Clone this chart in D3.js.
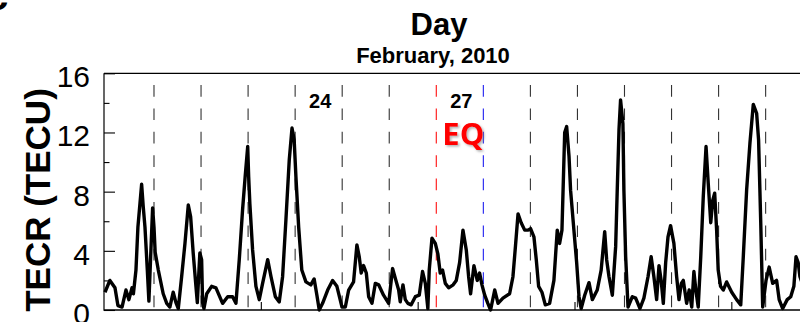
<!DOCTYPE html>
<html>
<head>
<meta charset="utf-8">
<script src="https://cdn.jsdelivr.net/npm/d3@7"></script>
<style>
  html, body { margin: 0; padding: 0; background: #fff; overflow: hidden; }
  text { font-family: "Liberation Sans", Arial, sans-serif; }
</style>
</head>
<body>
<svg id="chart" width="800" height="322"></svg>
<script>
// TEC residual series, hours counted from 20 Feb 2010 00 UT
const hours = [
  -1.0, 1.5, 4.1, 5.6, 7.7, 9.7, 11.2, 12.8, 13.5, 14.8,
  15.8, 17.7, 18.5, 19.4, 20.6, 21.4, 22.3, 23.3, 24.0, 24.6,
  26.2, 28.7, 30.5, 32.1, 33.8, 35.2, 36.4, 38.1, 39.8, 41.5,
  42.7, 44.0, 45.4, 46.1, 47.4, 48.3, 48.8, 49.5, 50.9, 53.4,
  55.6,
  59.0, 61.6, 64.1, 65.8, 67.5, 69.2, 70.5, 71.8, 72.3, 72.9,
  74.3, 76.0, 77.7, 79.4, 82.0, 83.7, 85.9, 87.9, 89.6, 91.3,
  93.0, 94.4, 95.5, 96.4, 97.8, 99.4, 101.5, 104.0, 105.7, 107.1,
  108.3, 110.0, 112.6, 115.1,
  117.3, 119.9, 121.6, 123.3, 125.8, 127.5, 128.7, 129.7, 130.9, 132.3,
  133.5, 135.2, 136.9, 138.6, 141.1, 143.7, 145.7, 147.4, 148.8, 149.6,
  151.0, 152.2, 153.5, 155.2, 157.3, 159.3, 161.0, 162.4, 163.7, 164.4,
  165.8, 167.5, 168.8, 170.0, 171.2, 172.6, 174.3, 176.6,
  178.2, 179.9, 181.6, 183.3, 184.5, 185.5, 187.2, 188.9, 190.1, 191.3,
  192.7, 194.3, 195.7, 197.8, 199.5, 202.0, 205.4, 207.1, 208.5, 209.7,
  211.3, 213.1, 214.8, 216.1, 217.8, 219.0, 220.2, 221.9, 223.6, 225.8,
  228.0, 229.7, 230.9, 232.1, 233.5, 234.5,
  235.7, 236.5, 238.2, 239.6, 240.8, 241.9, 243.7, 245.9, 247.6, 250.1,
  252.1, 253.9, 254.9, 256.1, 257.8, 259.5, 260.3, 261.2, 262.0, 263.2,
  263.7, 264.6, 265.8, 268.0, 269.7, 271.9, 273.9, 276.0, 277.6, 279.0,
  280.4, 281.6, 282.7, 283.8, 285.0, 286.2, 287.5, 289.2, 290.6, 291.8,
  293.0,
  294.0, 295.7, 297.0, 298.3, 299.4, 300.4, 301.6, 302.9, 304.2, 305.6,
  306.7, 308.0, 309.0, 310.0, 311.0, 311.8, 313.0, 314.4, 316.1, 318.7,
  321.2, 323.3, 324.6, 326.3, 328.0, 329.7, 331.4, 332.4, 333.5, 334.5,
  336.2, 337.8, 339.6, 341.6, 342.9, 344.7, 347.0, 348.8, 350.4, 351.5,
  352.6, 353.5, 355.5
];
const tecr = [
  1.2, 2.0, 1.5, 0.3, 0.2, 1.35, 0.7, 1.5, 1.1, 2.7,
  5.6, 8.5, 7.0, 5.6, 2.7, 0.6, 3.6, 6.9, 5.6, 3.9,
  2.7, 1.1, 0.45, 0.2, 1.2, 0.5, 0.1, 2.25, 4.5, 7.1,
  6.3, 3.85, 1.6, 0.5, 3.85, 3.4, 0.5, 0.1, 1.1, 1.6,
  1.5,
  0.45, 0.9, 0.9, 0.45, 3.4, 6.8, 9.0, 11.05, 9.0, 7.2,
  4.06, 1.6, 0.7, 1.8, 3.4, 2.25, 0.9, 0.55, 2.25, 6.1,
  10.15, 12.3, 11.5, 9.0, 5.6, 2.7, 1.9, 1.7, 2.1, 1.0,
  0.0, 0.45, 1.35, 2.0,
  1.6, 0.2, 0.2, 1.35, 1.9, 4.4, 3.6, 2.5, 3.0, 2.5,
  0.9, 0.45, 1.8, 1.7, 1.0, 0.45, 2.8, 2.0, 1.35, 0.55,
  1.7, 0.7, 0.45, 0.35, 0.9, 1.0, 2.6, 1.8, 0.1, 2.7,
  4.85, 4.5, 3.8, 2.5, 2.7, 1.8, 1.5, 1.7,
  2.0, 3.2, 5.4, 4.06, 2.25, 1.1, 3.0, 2.0, 2.5, 1.7,
  1.0, 0.45, 0.0, 1.35, 0.45, 0.8, 1.1, 2.25, 4.5, 6.5,
  5.9, 5.4, 5.4, 5.5, 4.95, 3.4, 1.6, 1.2, 0.35, 0.45,
  2.0, 5.4, 4.5, 5.4, 12.0, 12.4,
  10.4, 8.1, 5.4, 3.2, 0.9, 0.1, 1.0, 1.85, 0.7, 1.35,
  2.7, 5.3, 3.4, 2.25, 1.0, 4.3, 8.1, 12.2, 14.2, 12.6,
  8.1, 3.6, 0.2, 0.9, 0.8, 0.1, 0.8, 2.25, 3.6, 2.25,
  0.7, 3.0, 2.0, 0.45, 3.2, 4.95, 5.7, 4.5, 2.25, 0.7,
  1.8,
  2.0, 0.45, 1.35, 0.2, 2.6, 1.35, 0.2, 3.6, 7.7, 11.05,
  8.6, 5.9, 7.4, 7.9, 5.4, 2.7, 1.6, 1.35, 1.9, 1.2,
  0.7, 0.35, 3.6, 8.1, 11.3, 13.9, 13.3, 11.5, 5.9, 0.2,
  2.0, 2.9, 1.8, 2.0, 0.7, 0.1, 0.7, 0.9, 1.6, 3.6,
  3.2, 2.25, 1.5
];

const yTickValues = [0, 4, 8, 12, 16];
const yMinorValues = [2, 6, 10, 14];
const firstDay = 20;            // day of February at hour 0
const lastBoundaryDay = 34;     // day-boundary lines run through 6 March
const labelledDays = [24, 27];
const eqDay = 27;               // 27 February 2010 earthquake
const axisStartHour = -1.5;
const axisEndHour = 360;
const hourTickStep = 80;

const svg = d3.select("#chart");
const plotLeft = 104, plotTop = 73.3, plotBottom = 310;
const hourPx = 47.05 / 24;

const x = d3.scaleLinear()
  .domain([axisStartHour, axisEndHour])
  .range([plotLeft, plotLeft + (axisEndHour - axisStartHour) * hourPx]);
const y = d3.scaleLinear().domain([0, 16]).range([plotBottom, plotTop]);
const plotRight = x.range()[1];

// drop shadow for the EQ marker
const defs = svg.append("defs");
const shadow = defs.append("filter").attr("id", "eqShadow")
  .attr("x", "-20%").attr("y", "-20%").attr("width", "150%").attr("height", "150%");
shadow.append("feDropShadow").attr("dx", 1.6).attr("dy", 1.6)
  .attr("stdDeviation", 0.9).attr("flood-color", "#777").attr("flood-opacity", 0.55);

// day boundaries
const boundaryDays = d3.range(firstDay + 1, lastBoundaryDay + 1);
svg.append("g").selectAll("line")
  .data(boundaryDays)
  .join("line")
  .attr("x1", d => x((d - firstDay) * 24))
  .attr("x2", d => x((d - firstDay) * 24))
  .attr("y1", 85)
  .attr("y2", plotBottom)
  .attr("stroke", d => d === eqDay ? "#ff1010" : d === eqDay + 1 ? "#2020f0" : "#333")
  .attr("stroke-width", 1.1)
  .attr("stroke-dasharray", "11.7,11.7");

// TECR curve
const pts = hours.map((h, i) => [h, tecr[i]]);
svg.append("path")
  .datum(pts)
  .attr("fill", "none")
  .attr("stroke", "#000")
  .attr("stroke-width", 3.4)
  .attr("stroke-linejoin", "round")
  .attr("d", d3.line().x(d => x(d[0])).y(d => y(d[1])));

// left axis, inward ticks
const yAxis = svg.append("g")
  .attr("transform", `translate(${plotLeft},0)`)
  .call(d3.axisLeft(y).tickValues(yTickValues).tickSize(-11).tickPadding(14).tickFormat(d3.format("d")));
yAxis.select(".domain").remove();
yAxis.selectAll(".tick line").attr("stroke", "#000").attr("stroke-width", 1.1);
yAxis.selectAll(".tick text")
  .attr("font-size", 30)
  .attr("font-family", "Liberation Sans, Arial, sans-serif")
  .attr("fill", "#000")
  .attr("dy", "0.45em");

const yMinor = svg.append("g")
  .attr("transform", `translate(${plotLeft},0)`)
  .call(d3.axisLeft(y).tickValues(yMinorValues).tickSize(-5.5).tickFormat(""));
yMinor.select(".domain").remove();
yMinor.selectAll(".tick line").attr("stroke", "#000").attr("stroke-width", 1.1);

// bottom hour ticks
const bottomTicks = d3.range(axisStartHour + hourTickStep, axisEndHour, hourTickStep);
const xAxis = svg.append("g")
  .attr("transform", `translate(0,${plotBottom})`)
  .call(d3.axisBottom(x).tickValues(bottomTicks).tickSize(-8).tickFormat(""));
xAxis.select(".domain").remove();
xAxis.selectAll(".tick line").attr("stroke", "#000").attr("stroke-width", 1.1);

// frame
svg.append("line").attr("x1", plotLeft).attr("x2", plotRight).attr("y1", plotTop).attr("y2", plotTop)
  .attr("stroke", "#000").attr("stroke-width", 1.2);
svg.append("line").attr("x1", plotLeft).attr("x2", plotRight).attr("y1", plotBottom).attr("y2", plotBottom)
  .attr("stroke", "#000").attr("stroke-width", 1.4);
svg.append("line").attr("x1", plotLeft).attr("x2", plotLeft).attr("y1", plotTop).attr("y2", plotBottom + 0.7)
  .attr("stroke", "#000").attr("stroke-width", 1.2);

// day numbers
svg.append("g").selectAll("text")
  .data(labelledDays)
  .join("text")
  .attr("x", d => x((d - firstDay) * 24 + 12) + 1.5)
  .attr("y", 108)
  .attr("text-anchor", "middle")
  .attr("font-size", 20)
  .attr("font-weight", "bold")
  .text(d => d);

// earthquake marker
svg.append("text")
  .attr("x", x((eqDay - firstDay) * 24) + 6)
  .attr("y", 144.5)
  .style("font-family", "'Open Sans', sans-serif")
  .attr("font-size", 31)
  .attr("font-weight", "bold")
  .attr("fill", "#ff0000")
  .attr("filter", "url(#eqShadow)")
  .text("EQ");

// titles
svg.append("text")
  .attr("x", 439).attr("y", 35)
  .attr("text-anchor", "middle")
  .attr("font-size", 31).attr("font-weight", "bold")
  .text("Day");
svg.append("text")
  .attr("x", 433).attr("y", 62.5)
  .attr("text-anchor", "middle")
  .attr("font-size", 22).attr("font-weight", "bold")
  .text("February, 2010");

// y-axis title
svg.append("text")
  .attr("transform", "translate(50,200) rotate(-90)")
  .attr("text-anchor", "middle")
  .attr("font-size", 35).attr("font-weight", "bold")
  .text("TECR (TECU)");

// panel letter
svg.append("text")
  .attr("x", -14).attr("y", 10)
  .attr("font-size", 40).attr("font-weight", "bold")
  .text("c");
</script>
</body>
</html>
